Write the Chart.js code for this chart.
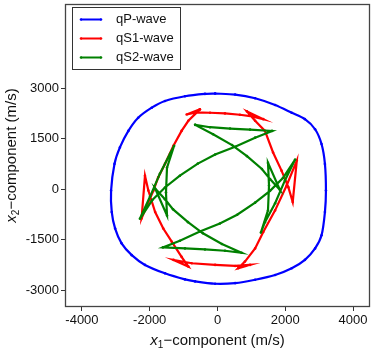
<!DOCTYPE html>
<html>
<head>
<meta charset="utf-8">
<style>
  html, body { margin: 0; padding: 0; background: #fff; }
</style>
<script src="https://cdn.jsdelivr.net/npm/chart.js@4.4.1/dist/chart.umd.min.js"></script>
</head>
<body>
<canvas id="myChart" width="374" height="352"></canvas>
<script>
// wave surfaces (m/s)
const seriesNames = ["qP-wave", "qS1-wave", "qS2-wave"];

const qPx = [-70, 520, 1110, 1700, 2190, 2580, 2880, 3070, 3170, 3200, 3170, 3070, 2880, 2580, 2190, 1700, 1110, 520, -70, -660, -960, -1550, -2140, -2530, -2830, -3020, -3120, -3140, -3040, -2880, -2630, -2340, -1940, -1550, -960, -370];
const qPy = [2840, 2810, 2700, 2500, 2270, 2080, 1780, 1340, 750, -40, -680, -1370, -1760, -2100, -2350, -2550, -2690, -2790, -2810, -2740, -2680, -2500, -2250, -1960, -1610, -1170, -680, -40, 750, 1240, 1730, 2120, 2420, 2620, 2760, 2830];

const qS1x = [-520, -910, -630, -220, 220, 660, 1020, 1350, 870, 1110, 1400, 1640, 1890, 2090, 2220, 2340, 2040, 1700, 1350, 1110, 810, 610, 960, 520, -70, -760, -1300, -860, -1060, -1350, -1600, -1840, -2040, -2140, -2240, -2080, -1890, -1750, -1550, -1300, -1060, -860];
const qS1y = [2370, 2220, 2280, 2270, 2250, 2210, 2160, 2080, 2310, 2030, 1730, 1090, 550, 60, -380, 850, 110, -630, -1270, -1760, -2150, -2350, -2250, -2280, -2250, -2200, -2100, -2300, -2010, -1560, -1170, -680, -40, 400, -870, -480, -40, 350, 750, 1290, 1730, 2030];

const qS2x = [-660, -220, 370, 960, 1610, 1110, 520, -70, -580, -1110, -1550, -1930, -2290, -1990, -1700, -1400, -1280, -1490, -1520, -1490, -1840, -1550, -1310, -870, -430, 130, 710, 220, -370, -960, -1610, -1110, -520, 70, 580, 1110, 1550, 1930, 2290, 1990, 1700, 1400, 1280, 1490, 1520, 1490, 1840, 1550, 1310, 870, 430, -130];
const qS2y = [1910, 1840, 1800, 1770, 1730, 1530, 1260, 1030, 760, 400, 50, -330, -880, -220, 460, 1050, 1290, 640, -100, -780, 20, -300, -600, -980, -1310, -1630, -1890, -1830, -1790, -1760, -1730, -1530, -1260, -1020, -760, -400, -50, 330, 880, 260, -420, -980, -1290, -630, 110, 780, -20, 300, 600, 980, 1310, 1630];

const xTicks = [-4000, -2000, 0, 2000, 4000];
const yTicks = [-3000, -1500, 0, 1500, 3000];

const colors = ["#0000ff", "#ff0000", "#008000"];

// closed curves: repeat the first point at the end
function loop(xs, ys) {
  const pts = xs.map((x, i) => ({ x: x, y: ys[i] }));
  pts.push(pts[0]);
  return pts;
}

function makeSet(i, pts, tension) {
  return {
    label: seriesNames[i],
    data: pts,
    showLine: true,
    borderColor: colors[i],
    backgroundColor: colors[i],
    borderWidth: 2.2,
    pointRadius: 1.3,
    pointBorderWidth: 0,
    tension: tension,
    order: 2 - i,
  };
}

const data = {
  datasets: [
    makeSet(0, loop(qPx, qPy), 0.25),
    makeSet(1, loop(qS1x, qS1y), 0),
    makeSet(2, loop(qS2x, qS2y), 0),
  ],
};

const FONT = "Arial, 'Liberation Sans', sans-serif";

// x_1 / x_2 style axis title: italic x, small subscript, rest upright
function drawAxisTitle(ctx, cx, baseY, sub) {
  const rest = "\u2212component (m/s)";
  ctx.font = "italic 15px " + FONT;
  const w1 = ctx.measureText("x").width;
  ctx.font = "10px " + FONT;
  const w2 = ctx.measureText(sub).width;
  ctx.font = "15px " + FONT;
  const w3 = ctx.measureText(rest).width;
  let x = cx - (w1 + w2 + w3) / 2;
  ctx.textAlign = "left";
  ctx.textBaseline = "alphabetic";
  ctx.fillStyle = "#111";
  ctx.font = "italic 15px " + FONT;
  ctx.fillText("x", x, baseY);
  x += w1;
  ctx.font = "10px " + FONT;
  ctx.fillText(sub, x, baseY + 3);
  x += w2;
  ctx.font = "15px " + FONT;
  ctx.fillText(rest, x, baseY);
}

const frameAndLegend = {
  id: "frameAndLegend",
  afterDraw(chart) {
    const { ctx, chartArea: { left, right, top, bottom } } = chart;
    ctx.save();

    // box around the plot
    ctx.strokeStyle = "#444";
    ctx.lineWidth = 1.3;
    ctx.strokeRect(left + 0.5, top + 0.5, right - left - 1, bottom - top - 1);

    // axis titles
    drawAxisTitle(ctx, (left + right) / 2, 345, "1");
    ctx.save();
    ctx.translate(16, (top + bottom) / 2);
    ctx.rotate(-Math.PI / 2);
    drawAxisTitle(ctx, 0, 0, "2");
    ctx.restore();

    // legend box
    ctx.fillStyle = "#fff";
    ctx.fillRect(72.5, 7.5, 108, 62);
    ctx.strokeStyle = "#333";
    ctx.lineWidth = 1;
    ctx.strokeRect(72.5, 7.5, 108, 62);
    const rows = [19.5, 38.5, 57.5];
    seriesNames.forEach((name, i) => {
      const y = rows[i];
      ctx.strokeStyle = colors[i];
      ctx.fillStyle = colors[i];
      ctx.lineWidth = 2;
      ctx.beginPath();
      ctx.moveTo(81, y);
      ctx.lineTo(101, y);
      ctx.stroke();
      [81, 101].forEach(px => {
        ctx.beginPath();
        ctx.arc(px, y, 1.3, 0, 2 * Math.PI);
        ctx.fill();
      });
      ctx.font = "13px " + FONT;
      ctx.fillStyle = "#111";
      ctx.textAlign = "left";
      ctx.textBaseline = "middle";
      ctx.fillText(name, 116, y);
    });

    ctx.restore();
  },
};

const tickFont = { family: FONT, size: 13 };

const config = {
  type: "scatter",
  data,
  options: {
    responsive: false,
    animation: false,
    layout: { padding: { left: 0, right: 3, top: 2, bottom: 0 } },
    scales: {
      x: {
        type: "linear",
        min: -4500,
        max: 4500,
        afterBuildTicks: (s) => { s.ticks = xTicks.map(v => ({ value: v })); },
        afterFit: (s) => { s.height = 45; s.paddingLeft = 0; s.paddingRight = 0; },
        border: { display: false },
        grid: { drawOnChartArea: false, drawTicks: true, tickLength: 4, tickColor: "#333" },
        ticks: { font: tickFont, color: "#111", padding: 2, maxRotation: 0, callback: v => String(v) },
      },
      y: {
        type: "linear",
        min: -3500,
        max: 5500,
        afterBuildTicks: (s) => { s.ticks = yTicks.map(v => ({ value: v })); },
        afterFit: (s) => { s.width = 65; s.paddingTop = 0; s.paddingBottom = 0; },
        border: { display: false },
        grid: { drawOnChartArea: false, drawTicks: true, tickLength: 4, tickColor: "#333" },
        ticks: { font: tickFont, color: "#111", padding: 2, callback: v => String(v) },
      },
    },
    plugins: {
      legend: { display: false },
      tooltip: { enabled: false },
    },
  },
  plugins: [frameAndLegend],
};

const myChart = new Chart(document.getElementById("myChart"), config);
</script>
</body>
</html>
